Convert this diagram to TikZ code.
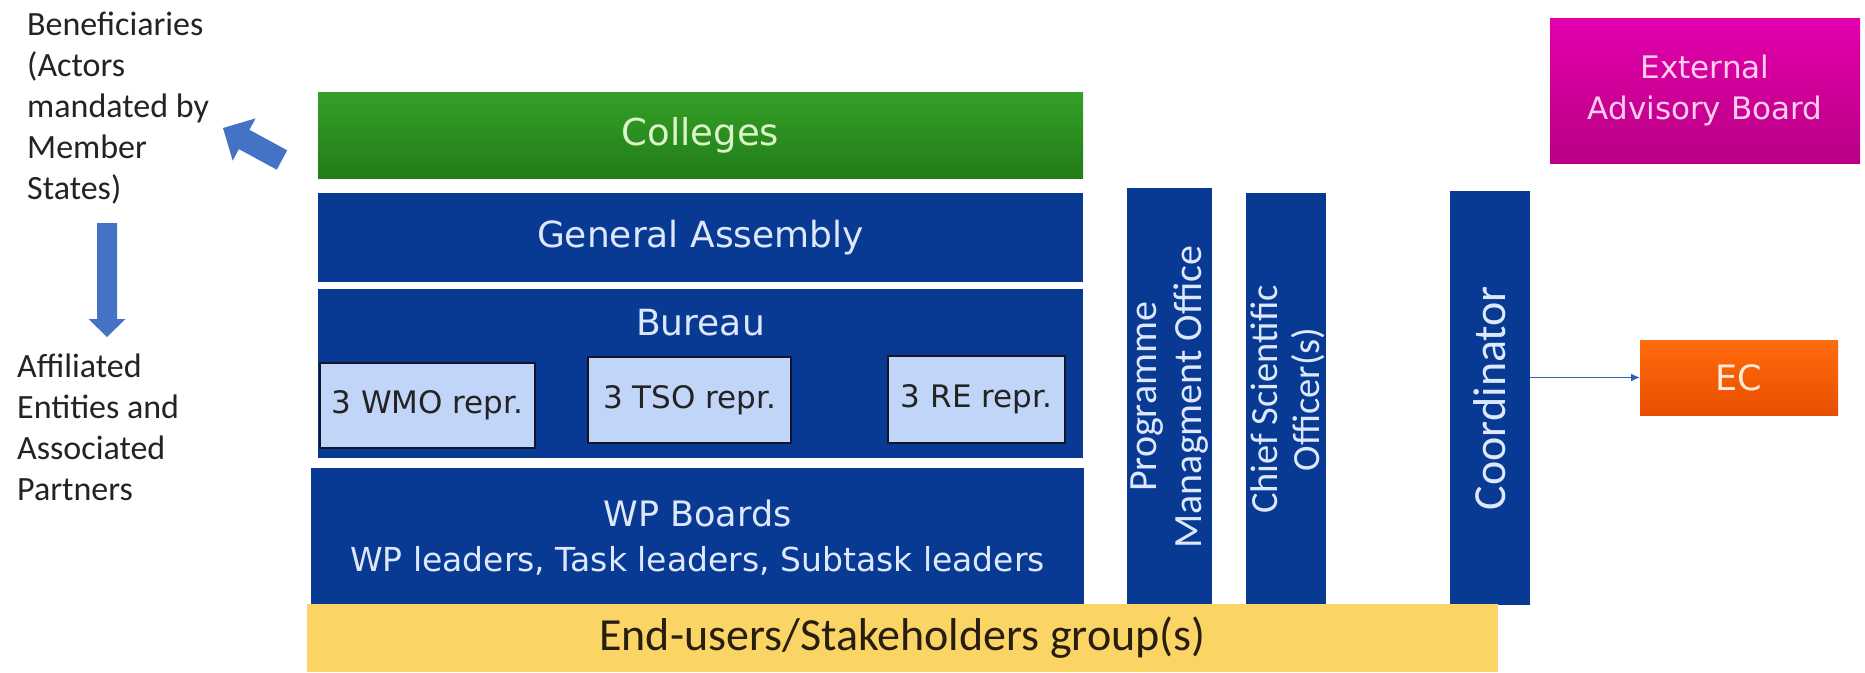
\documentclass[tikz,border=0pt]{standalone}
\usepackage{fontspec}
\setmainfont{DejaVu Sans}
\newfontfamily\calfont{Carlito}
\newfontfamily\boxfont{DejaVu Sans}
\usetikzlibrary{arrows.meta}
\newcommand\setfs[2]{\fontsize{#1}{#2}\selectfont}
\definecolor{pblue}{RGB}{8,58,148}
\definecolor{ptext}{RGB}{222,232,252}
\definecolor{gtop}{RGB}{52,160,40}
\definecolor{gbot}{RGB}{34,124,24}
\definecolor{gtext}{RGB}{218,246,200}
\definecolor{psub}{RGB}{192,213,248}
\definecolor{psubedge}{RGB}{20,22,40}
\definecolor{pyellow}{RGB}{250,212,100}
\definecolor{ytext}{RGB}{40,30,15}
\definecolor{mtop}{RGB}{226,0,172}
\definecolor{mbot}{RGB}{186,0,132}
\definecolor{mtext}{RGB}{255,205,240}
\definecolor{otop}{RGB}{255,108,12}
\definecolor{obot}{RGB}{232,78,0}
\definecolor{otext}{RGB}{255,232,215}
\definecolor{ablue}{RGB}{68,114,196}
\definecolor{lblue}{RGB}{40,100,180}
\definecolor{ltext}{RGB}{35,35,35}
\begin{document}
\begin{tikzpicture}[x=1pt,y=-1pt,
  blk/.style={anchor=north west, inner sep=0pt, outer sep=0pt, align=center},
  bluebox/.style={blk, fill=pblue, text=ptext},
  subbox/.style={blk, fill=psub, draw=psubedge, line width=2.5pt, text=ltext, font=\boxfont\setfs{31}{37}},
  vtext/.style={rotate=90, inner sep=0pt, align=center, text=ptext},
  lefttext/.style={anchor=north west, inner sep=0pt, align=left, text=ltext, font=\calfont\setfs{34}{41}},
  conn/.style={draw=lblue, line width=1.5pt, -{Latex[length=9pt,width=8pt]}},
  blockarrow/.style={fill=ablue, draw=none}
]
\useasboundingbox (0,0) rectangle (1865,672);

% left texts
\node[lefttext] (benef) at (27,12) {Beneficiaries\\(Actors\\mandated by\\Member\\States)};
\node[lefttext] (affil) at (17,354) {Affiliated\\Entities and\\Associated\\Partners};

% block arrows
\fill[blockarrow] (287.2,150.3) -- (249.4,129.8) -- (255.6,118.4) -- (223,128)
  -- (232.7,160.6) -- (238.9,149.1) -- (276.8,169.7) -- cycle;
\fill[blockarrow] (97,223) -- (117,223) -- (117,319) -- (125.5,319) -- (107,337)
  -- (88.5,319) -- (97,319) -- cycle;

% left stack
\node[blk, top color=gtop, bottom color=gbot, text=gtext, minimum width=765pt, minimum height=86pt,
  font=\boxfont\setfs{37}{44}] (colleges) at (318,92) {Colleges};
\node[bluebox, minimum width=765pt, minimum height=89pt, font=\boxfont\setfs{36}{43}] (ga) at (318,193) {General Assembly};
\node[bluebox, minimum width=765pt, minimum height=169pt] (bureau) at (318,289) {};
\node[inner sep=0pt, text=ptext, font=\boxfont\setfs{36}{43}] (bureautxt) at (700.5,323) {Bureau};
\node[subbox, minimum width=215pt, minimum height=85pt] (wmo) at (320,363) {3 WMO repr.};
\node[subbox, minimum width=203pt, minimum height=86pt] (tso) at (588,357) {3 TSO repr.};
\node[subbox, minimum width=177pt, minimum height=87pt] (re) at (888,356) {3 RE repr.};
\node[bluebox, minimum width=773pt, minimum height=139pt, font=\boxfont\setfs{33}{45}] (wp) at (311,468)
  {{\setfs{35}{45}WP Boards}\\WP leaders, Task leaders, Subtask leaders};

% vertical boxes
\node[bluebox, minimum width=85pt, minimum height=418pt] (pmo) at (1127,188) {};
\node[vtext, font=\calfont\setfs{40}{45}] (pmotxt) at (pmo.center) {Programme\\Managment Office};
\node[bluebox, minimum width=80pt, minimum height=413pt] (cso) at (1246,193) {};
\node[vtext, font=\calfont\setfs{38.5}{42}] (csotxt) at ([xshift=2pt]cso.center) {Chief Scientific\\Officer(s)};
\node[bluebox, minimum width=80pt, minimum height=414pt] (coord) at (1450,191) {};
\node[vtext, font=\calfont\setfs{46}{55}] (coordtxt) at (coord.center) {Coordinator};

% end users
\node[blk, fill=pyellow, text=ytext, minimum width=1191pt, minimum height=68pt,
  font=\calfont\setfs{46}{55}] (endusers) at (307,604) {End-users/Stakeholders group(s)};

% right side
\node[blk, top color=mtop, bottom color=mbot, text=mtext, minimum width=310pt, minimum height=145pt,
  font=\boxfont\setfs{31}{41}] (eab) at (1550,18) {External\\Advisory Board};
\node[blk, top color=otop, bottom color=obot, text=otext, minimum width=198pt, minimum height=75pt,
  font=\boxfont\setfs{35}{42}] (ec) at (1640,340) {EC};

\draw[conn] (coord.east |- ec.west) -- (ec.west);
\end{tikzpicture}
\end{document}
